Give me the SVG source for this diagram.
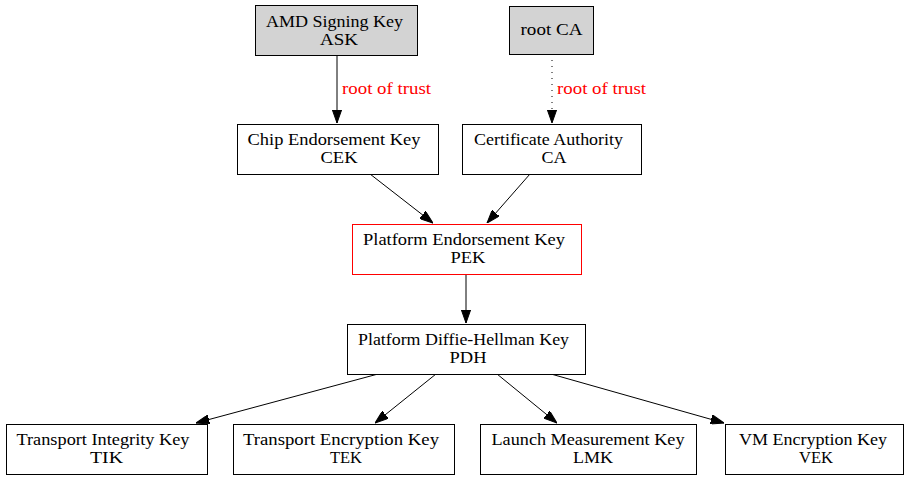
<svg xmlns="http://www.w3.org/2000/svg" width="909" height="480" viewBox="0 0 909 480">
<style>
text{font-family:"Liberation Serif","Times New Roman",serif;font-size:16px;text-anchor:middle;fill:#000}
.n{fill:#fff;stroke:#000;stroke-width:1}
.g{fill:#d3d3d3}
.r{stroke:#ff0000}
.e{stroke:#000;stroke-width:1;fill:none;marker-end:url(#a)}
.d{stroke-dasharray:1,5}
.l{fill:#ff0000;text-anchor:start}
</style>
<defs>
<marker id="a" viewBox="0 0 13.3 9.4" refX="13.3" refY="4.7" markerWidth="13.3" markerHeight="9.4" markerUnits="userSpaceOnUse" orient="auto">
<path d="M0,0L13.3,4.7L0,9.4z" fill="#000" stroke="#000"/>
</marker>
</defs>
<rect width="909" height="480" fill="#fff"/>
<g id="connectors">
<line class="e" x1="337" y1="56" x2="337" y2="123"/>
<text class="l" x="342" y="94" textLength="89" lengthAdjust="spacingAndGlyphs">root of trust</text>
<line class="e d" x1="552" y1="54" x2="552" y2="123"/>
<text class="l" x="557" y="94" textLength="89" lengthAdjust="spacingAndGlyphs">root of trust</text>
<line class="e" x1="370" y1="174" x2="433" y2="223"/>
<line class="e" x1="530" y1="174" x2="487" y2="223"/>
<line class="e" x1="466" y1="274" x2="466" y2="323"/>
<line class="e" x1="378" y1="374" x2="196" y2="423"/>
<line class="e" x1="436" y1="374" x2="375" y2="423"/>
<line class="e" x1="497" y1="374" x2="557" y2="423"/>
<line class="e" x1="551" y1="374" x2="724" y2="423"/>
</g>
<g id="ASK"><rect class="n g" x="255.5" y="5.5" width="162" height="50"/><text x="334.5" y="27" textLength="137" lengthAdjust="spacingAndGlyphs">AMD Signing Key</text><text x="339" y="45" textLength="38" lengthAdjust="spacingAndGlyphs">ASK</text></g>
<g id="rootCA"><rect class="n g" x="509.5" y="6.5" width="84" height="48"/><text x="551.5" y="35" textLength="62" lengthAdjust="spacingAndGlyphs">root CA</text></g>
<g id="CEK"><rect class="n" x="237.5" y="124.5" width="201" height="50"/><text x="334" y="145" textLength="173" lengthAdjust="spacingAndGlyphs">Chip Endorsement Key</text><text x="339" y="163" textLength="37" lengthAdjust="spacingAndGlyphs">CEK</text></g>
<g id="CA"><rect class="n" x="462.5" y="124.5" width="179" height="50"/><text x="548.5" y="145" textLength="149" lengthAdjust="spacingAndGlyphs">Certificate Authority</text><text x="554" y="163" textLength="25" lengthAdjust="spacingAndGlyphs">CA</text></g>
<g id="PEK"><rect class="n r" x="352.5" y="224.5" width="229" height="50"/><text x="464" y="245" textLength="202" lengthAdjust="spacingAndGlyphs">Platform Endorsement Key</text><text x="468" y="263" textLength="35" lengthAdjust="spacingAndGlyphs">PEK</text></g>
<g id="PDH"><rect class="n" x="347.5" y="324.5" width="238" height="50"/><text x="463.5" y="345" textLength="211" lengthAdjust="spacingAndGlyphs">Platform Diffie-Hellman Key</text><text x="468" y="363" textLength="37" lengthAdjust="spacingAndGlyphs">PDH</text></g>
<g id="TIK"><rect class="n" x="6.5" y="424.5" width="201" height="50"/><text x="103" y="445" textLength="173" lengthAdjust="spacingAndGlyphs">Transport Integrity Key</text><text x="106.5" y="463" textLength="33" lengthAdjust="spacingAndGlyphs">TIK</text></g>
<g id="TEK"><rect class="n" x="233.5" y="424.5" width="221" height="50"/><text x="341" y="445" textLength="196" lengthAdjust="spacingAndGlyphs">Transport Encryption Key</text><text x="346" y="463" textLength="32" lengthAdjust="spacingAndGlyphs">TEK</text></g>
<g id="LMK"><rect class="n" x="480.5" y="424.5" width="216" height="50"/><text x="588" y="445" textLength="193" lengthAdjust="spacingAndGlyphs">Launch Measurement Key</text><text x="593" y="463" textLength="40" lengthAdjust="spacingAndGlyphs">LMK</text></g>
<g id="VEK"><rect class="n" x="725.5" y="424.5" width="178" height="50"/><text x="813" y="445" textLength="148" lengthAdjust="spacingAndGlyphs">VM Encryption Key</text><text x="816" y="463" textLength="34" lengthAdjust="spacingAndGlyphs">VEK</text></g>
</svg>
